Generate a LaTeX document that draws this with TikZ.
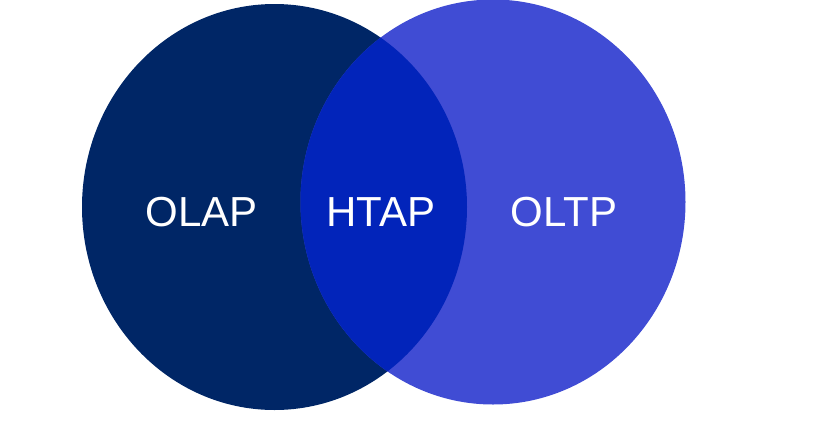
\documentclass[tikz,border=0pt]{standalone}
\usepackage{fontspec}
\setmainfont{Liberation Sans}
\definecolor{olapc}{RGB}{0,38,102}
\definecolor{oltpc}{RGB}{64,76,212}
\definecolor{htapc}{RGB}{2,36,186}
\begin{document}
\begin{tikzpicture}[x=1pt,y=-1pt,
  lbl/.style={text=white,font=\fontsize{42}{42}\selectfont,inner sep=0pt,anchor=center}]
\useasboundingbox (0,0) rectangle (836,424);
\fill[olapc] (274.5,207) ellipse [x radius=192.5, y radius=203];
\fill[oltpc] (493,202) ellipse [x radius=192.5, y radius=202.5];
\begin{scope}
  \clip (274.5,207) ellipse [x radius=192.5, y radius=203];
  \fill[htapc] (493,202) ellipse [x radius=192.5, y radius=202.5];
\end{scope}
\node[lbl] (olap) at (201.5,212) {OLAP};
\node[lbl] (htap) at (381,212) {HTAP};
\node[lbl] (oltp) at (564,212) {OLTP};
\end{tikzpicture}
\end{document}
